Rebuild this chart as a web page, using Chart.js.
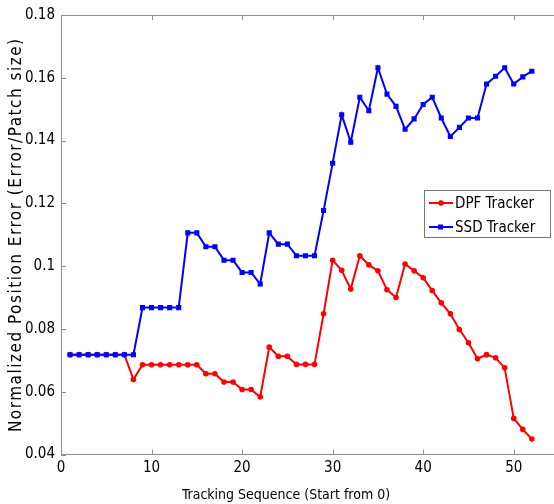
<!DOCTYPE html>
<html>
<head>
<meta charset="utf-8">
<script src="https://cdn.jsdelivr.net/npm/chart.js@4"></script>
<style>
  html, body { margin: 0; padding: 0; background: #fff; overflow: hidden; }
  #wrap { width: 554px; height: 504px; overflow: hidden; }
  canvas { display: block; }
</style>
</head>
<body>
<div id="wrap"><canvas id="errChart" width="564" height="504"></canvas></div>
<script>
  // sequence index 1..52
  const frames = [];
  for (let i = 1; i <= 52; i++) frames.push(i);

  const dpfError = [
    0.0718, 0.0718, 0.0718, 0.0718, 0.0718, 0.0718, 0.0718, 0.0639, 0.0686, 0.0686,
    0.0686, 0.0686, 0.0686, 0.0686, 0.0686, 0.0657, 0.0657, 0.0631, 0.0631, 0.0607,
    0.0607, 0.0583, 0.0742, 0.0713, 0.0713, 0.0687, 0.0687, 0.0687, 0.0848, 0.1019,
    0.0987, 0.0927, 0.1033, 0.1004, 0.0985, 0.0925, 0.0900, 0.1007, 0.0985, 0.0963,
    0.0922, 0.0883, 0.0848, 0.0798, 0.0756, 0.0705, 0.0718, 0.0708, 0.0676, 0.0515,
    0.0480, 0.0449
  ];

  const ssdError = [
    0.0718, 0.0718, 0.0718, 0.0718, 0.0718, 0.0718, 0.0718, 0.0718, 0.0868, 0.0868,
    0.0868, 0.0868, 0.0868, 0.1106, 0.1106, 0.1062, 0.1062, 0.1019, 0.1019, 0.0980,
    0.0980, 0.0943, 0.1106, 0.1070, 0.1070, 0.1033, 0.1033, 0.1033, 0.1177, 0.1328,
    0.1482, 0.1395, 0.1538, 0.1495, 0.1632, 0.1548, 0.1509, 0.1436, 0.1469, 0.1515,
    0.1538, 0.1472, 0.1413, 0.1442, 0.1472, 0.1472, 0.1580, 0.1605, 0.1632, 0.1580,
    0.1603, 0.1621
  ];

  const seriesNames = ['DPF Tracker', 'SSD Tracker'];
  const seriesColors = ['rgb(255,0,0)', 'rgb(0,0,255)'];
  const xTitle = 'Tracking Sequence (Start from 0)';
  const yTitle = 'Normalized Position Error (Error/Patch size)';

  const axisColor = 'rgb(140,140,140)';
  const fontFamily = "'Liberation Sans Narrow', 'DejaVu Sans Condensed', 'Liberation Sans', sans-serif";

  const toPoints = (vals) => vals.map((v, i) => ({x: frames[i], y: v}));

  // box + inward ticks like matlab
  const framePlugin = {
    id: 'frameBox',
    afterDraw: (chart) => {
      const {ctx, chartArea} = chart;
      const xs = chart.scales.x, ys = chart.scales.y;
      ctx.save();
      ctx.strokeStyle = axisColor;
      ctx.lineWidth = 1;
      ctx.beginPath();
      ctx.moveTo(chartArea.left, chartArea.top + 0.5);
      ctx.lineTo(chartArea.right, chartArea.top + 0.5);
      ctx.moveTo(chartArea.right - 0.5, chartArea.top);
      ctx.lineTo(chartArea.right - 0.5, chartArea.bottom);
      xs.ticks.forEach(t => {
        const px = Math.round(xs.getPixelForValue(t.value)) + 0.5;
        ctx.moveTo(px, chartArea.bottom);
        ctx.lineTo(px, chartArea.bottom - 5);
        ctx.moveTo(px, chartArea.top);
        ctx.lineTo(px, chartArea.top + 5);
      });
      ys.ticks.forEach(t => {
        const py = Math.round(ys.getPixelForValue(t.value)) + 0.5;
        ctx.moveTo(chartArea.left, py);
        ctx.lineTo(chartArea.left + 5, py);
        ctx.moveTo(chartArea.right, py);
        ctx.lineTo(chartArea.right - 5, py);
      });
      ctx.stroke();

      // axis titles (x one sits left of centre in the original figure)
      ctx.fillStyle = '#000';
      ctx.textAlign = 'center';
      ctx.textBaseline = 'middle';
      ctx.font = '14px ' + fontFamily;
      ctx.fillText(xTitle, 286, 495);
      ctx.translate(17, (chartArea.top + chartArea.bottom) / 2);
      ctx.rotate(-Math.PI / 2);
      ctx.font = '17px ' + fontFamily;
      ctx.letterSpacing = '1.5px';
      ctx.fillText(yTitle, 0, 0);
      ctx.restore();
    }
  };

  const legendPlugin = {
    id: 'boxLegend',
    afterDraw: (chart) => {
      const {ctx} = chart;
      const x0 = 424, y0 = 190, w = 126, h = 47;
      ctx.save();
      ctx.fillStyle = '#fff';
      ctx.fillRect(x0, y0, w, h);
      ctx.strokeStyle = 'rgb(120,120,120)';
      ctx.lineWidth = 1;
      ctx.strokeRect(x0 + 0.5, y0 + 0.5, w, h);
      const rows = [203, 227];
      chart.data.datasets.forEach((ds, i) => {
        const y = rows[i];
        ctx.strokeStyle = ds.borderColor;
        ctx.fillStyle = ds.borderColor;
        ctx.lineWidth = 2;
        ctx.beginPath();
        ctx.moveTo(429, y);
        ctx.lineTo(453, y);
        ctx.stroke();
        if (ds.pointStyle === 'rect') {
          ctx.fillRect(438, y - 2.5, 5, 5);
        } else {
          ctx.beginPath();
          ctx.arc(441, y, 2.8, 0, Math.PI * 2);
          ctx.fill();
        }
        ctx.fillStyle = '#000';
        ctx.font = '15px ' + fontFamily;
        ctx.textBaseline = 'middle';
        ctx.fillText(ds.label, 455, y + 1);
      });
      ctx.restore();
    }
  };

  const data = {
    datasets: [{
      label: seriesNames[0],
      data: toPoints(dpfError),
      borderColor: seriesColors[0],
      backgroundColor: seriesColors[0],
      borderWidth: 2,
      pointStyle: 'circle',
      pointRadius: 2.8,
      pointBorderWidth: 0,
      order: 1
    },
    {
      label: seriesNames[1],
      data: toPoints(ssdError),
      borderColor: seriesColors[1],
      backgroundColor: seriesColors[1],
      borderWidth: 2,
      pointStyle: 'rect',
      pointRadius: 3.6,
      pointBorderWidth: 0,
      order: 0
    }]
  };

  const config = {
    type: 'line',
    data: data,
    plugins: [framePlugin, legendPlugin],
    options: {
      responsive: false,
      animation: false,
      devicePixelRatio: 1,
      layout: {
        padding: {top: 13, right: 5, left: 0, bottom: 0}
      },
      plugins: {
        legend: {display: false},
        tooltip: {enabled: false}
      },
      scales: {
        x: {
          type: 'linear',
          min: 0,
          max: 55,
          afterFit: (s) => { s.height = 49.5; },
          border: {color: axisColor},
          grid: {drawOnChartArea: false, drawTicks: false},
          ticks: {
            stepSize: 10,
            includeBounds: false,
            color: '#000',
            padding: 5,
            maxRotation: 0,
            font: {family: fontFamily, size: 15}
          }
        },
        y: {
          min: 0.04,
          max: 0.18,
          afterFit: (s) => { s.width = 61; },
          border: {color: axisColor},
          grid: {drawOnChartArea: false, drawTicks: false},
          ticks: {
            stepSize: 0.02,
            color: '#000',
            padding: 6,
            callback: (v) => String(+v.toFixed(2)),
            font: {family: fontFamily, size: 15}
          }
        }
      }
    }
  };

  const errChart = new Chart(
    document.getElementById('errChart'),
    config
  );
</script>
</body>
</html>
